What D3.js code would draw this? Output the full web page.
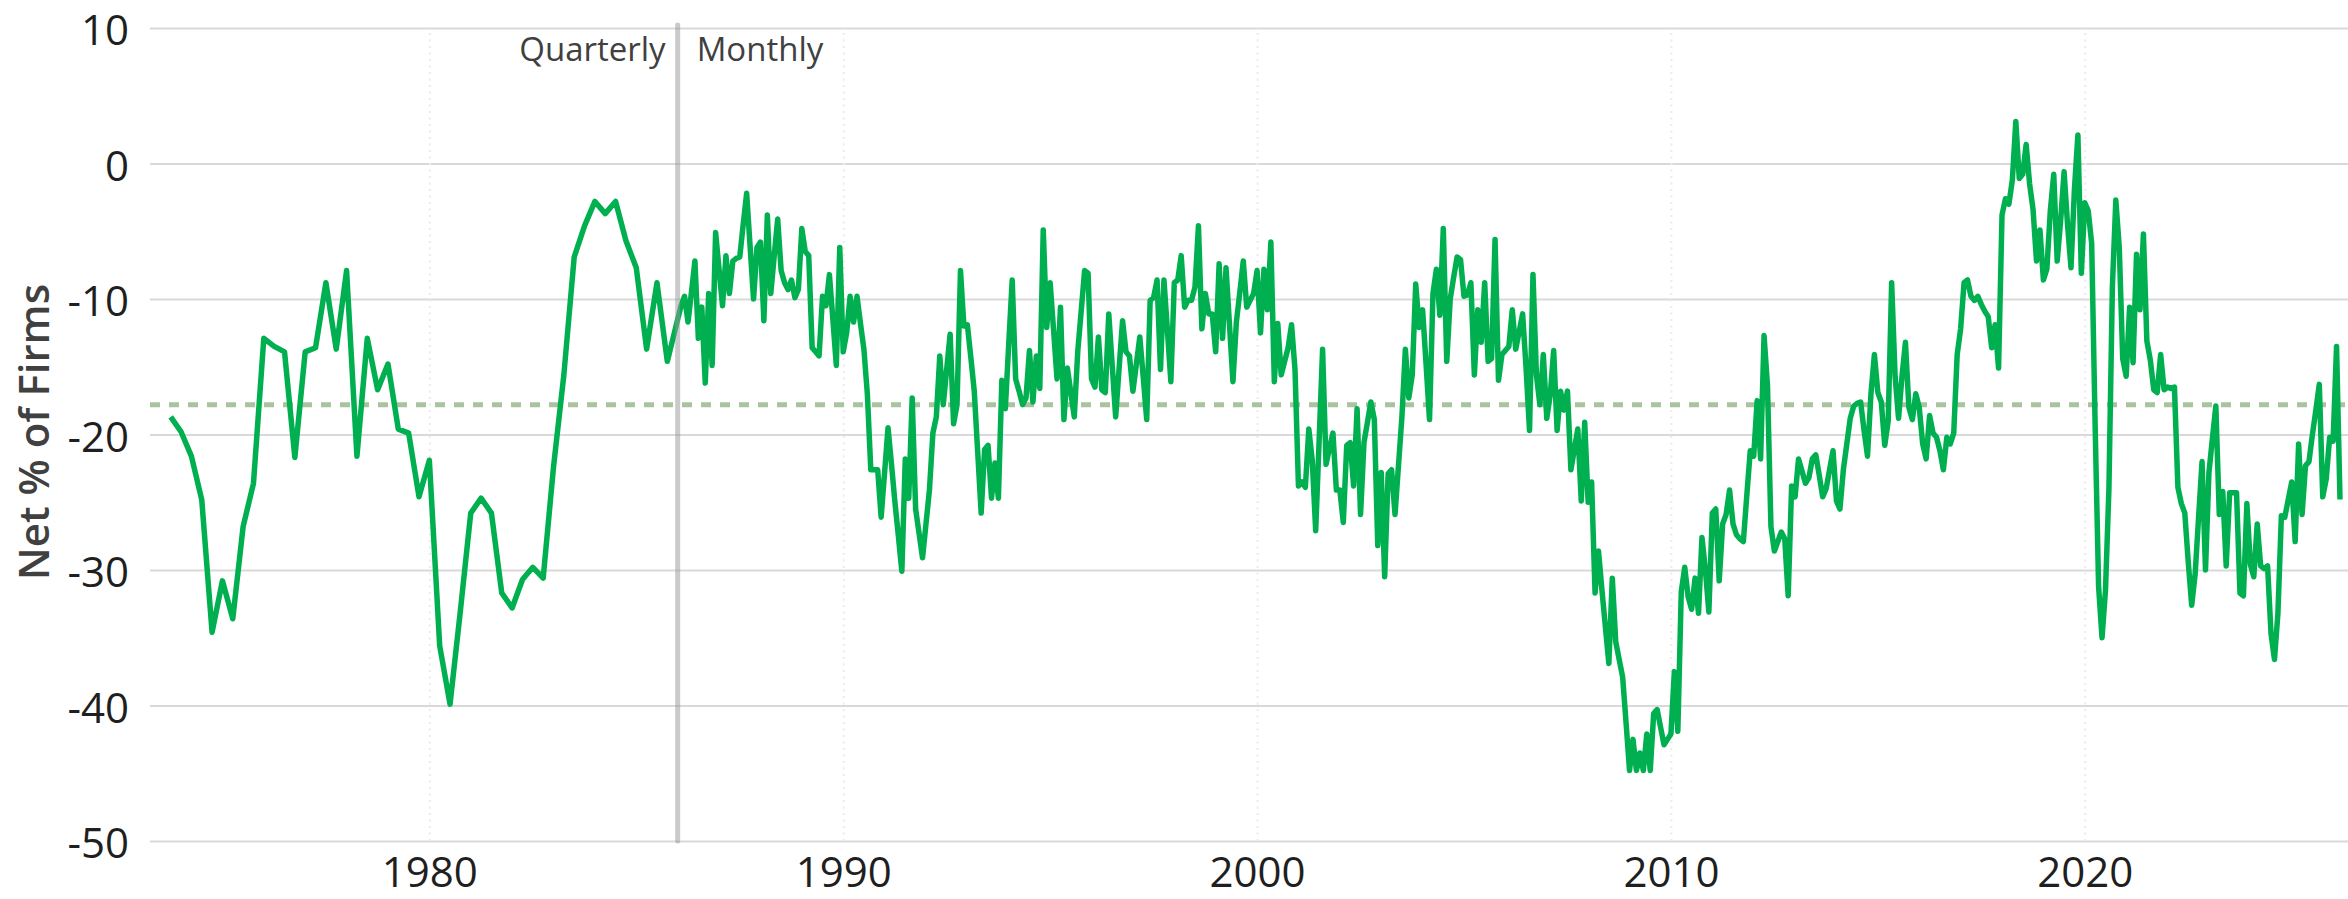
<!DOCTYPE html>
<html>
<head>
<meta charset="utf-8">
<script src="https://cdn.jsdelivr.net/npm/d3@7"></script>
<style>
  body { margin: 0; background: #fff; }
  text { font-family: "Open Sans", "Noto Sans", sans-serif; }
</style>
</head>
<body>
<div id="chart"></div>
<script>
// quarterly survey, 1973 Q4 to 1985 Q4
var quarterlyStart = 1973.75;
var quarterlyValues = [
  -18.7, -19.8, -21.6, -24.8, -34.6, -30.8, -33.6, -26.8, -23.6, -12.9, -13.5, -13.9,
  -21.7, -13.9, -13.6, -8.8, -13.7, -7.9, -21.6, -12.9, -16.7, -14.8, -19.6, -19.9,
  -24.6, -21.9, -35.6, -39.9, -33.0, -25.8, -24.7, -25.8, -31.7, -32.8, -30.7, -29.8,
  -30.6, -22.4, -15.6, -6.9, -4.6, -2.8, -3.7, -2.8, -5.7, -7.7, -13.7, -8.8, -14.6
];

// monthly survey from Jan 1986, one row per year
var monthlyStart = 1986;
var monthlyValues = [
  -11.5, -10.5, -9.8, -11.7, -9.5, -7.2, -12.9, -10.6, -16.2, -9.6, -14.9, -5.1,
  -7.8, -10.5, -6.8, -9.6, -7.2, -7.0, -6.9, -4.5, -2.2, -6.1, -10.0, -6.2,
  -5.8, -11.6, -3.8, -9.6, -6.8, -4.1, -7.9, -8.8, -9.3, -8.6, -9.9, -9.3,
  -4.8, -6.5, -6.8, -13.6, -13.9, -14.2, -9.8, -10.5, -8.2, -11.5, -14.9, -6.2,
  -13.9, -12.5, -9.8, -11.7, -9.8, -11.8, -13.7, -17.0, -22.6, -22.6, -22.6, -26.1,
  -22.8, -19.5, -22.2, -25.0, -27.5, -30.1, -21.8, -24.7, -17.3, -25.5, -27.3, -29.1,
  -26.6, -24.1, -19.9, -18.7, -14.2, -17.8, -15.2, -12.6, -19.2, -17.8, -7.9, -12.0,
  -11.9, -14.3, -16.8, -21.3, -25.8, -21.1, -20.8, -24.7, -22.1, -24.7, -16.0, -18.1,
  -13.3, -8.6, -15.9, -16.8, -17.8, -17.3, -13.8, -17.6, -14.2, -16.6, -4.9, -12.1,
  -8.8, -12.3, -15.9, -10.6, -18.9, -15.1, -16.9, -18.7, -13.9, -10.9, -7.9, -8.1,
  -15.9, -16.5, -12.8, -16.7, -16.9, -11.1, -14.9, -18.7, -15.1, -11.6, -13.9, -14.2,
  -16.8, -14.8, -12.8, -15.8, -18.9, -10.1, -9.9, -8.6, -15.2, -8.6, -12.3, -16.1,
  -8.8, -8.6, -6.8, -10.6, -10.1, -10.1, -9.1, -4.6, -12.2, -9.6, -11.1, -11.1,
  -13.9, -7.4, -12.9, -7.7, -11.9, -16.1, -11.7, -9.5, -7.2, -10.6, -10.1, -9.6,
  -7.9, -12.5, -7.8, -10.8, -5.8, -16.1, -11.8, -15.6, -14.6, -13.6, -11.9, -15.2,
  -23.8, -23.5, -23.9, -19.6, -21.9, -27.1, -20.4, -13.7, -22.2, -21.0, -19.9, -24.1,
  -24.1, -26.5, -20.8, -20.6, -23.8, -18.1, -25.9, -20.6, -19.1, -17.6, -18.9, -28.2,
  -22.8, -30.5, -22.9, -22.6, -25.9, -22.3, -18.7, -13.7, -17.3, -15.6, -8.9, -12.1,
  -10.8, -14.8, -18.9, -9.6, -7.8, -11.2, -4.8, -14.6, -10.0, -8.4, -6.9, -7.1,
  -9.8, -9.7, -8.8, -15.6, -10.8, -13.2, -8.8, -14.6, -14.4, -5.6, -16.0, -14.1,
  -13.8, -13.5, -10.8, -13.7, -12.4, -11.1, -15.1, -19.7, -8.2, -15.6, -17.8, -14.1,
  -18.8, -17.1, -13.8, -19.7, -16.8, -18.2, -16.8, -22.6, -21.1, -19.6, -24.9, -19.1,
  -25.0, -23.5, -31.7, -28.6, -31.5, -34.2, -36.9, -30.6, -35.3, -36.6, -37.9, -41.3,
  -44.8, -42.5, -44.8, -43.5, -44.8, -42.1, -44.8, -40.6, -40.3, -41.6, -42.9, -42.5,
  -42.1, -37.5, -41.9, -31.6, -29.8, -32.0, -32.9, -30.6, -33.2, -27.6, -30.0, -33.1,
  -25.8, -25.5, -30.8, -26.6, -25.9, -24.1, -26.6, -27.4, -27.7, -27.9, -24.5, -21.2,
  -21.6, -17.5, -21.8, -12.7, -16.4, -26.8, -28.6, -27.9, -27.2, -27.7, -31.9, -23.8,
  -24.6, -21.8, -22.7, -23.6, -23.2, -21.8, -21.5, -23.0, -24.6, -24.0, -22.6, -21.2,
  -24.9, -25.5, -22.6, -20.7, -18.8, -17.9, -17.7, -17.6, -19.7, -21.6, -17.0, -14.1,
  -16.9, -17.6, -20.8, -19.0, -8.8, -15.7, -18.8, -15.7, -13.2, -18.0, -18.9, -17.0,
  -18.0, -20.7, -21.8, -18.6, -19.9, -20.2, -21.2, -22.6, -20.2, -20.7, -19.9, -14.1,
  -12.2, -8.8, -8.6, -9.8, -10.1, -9.8, -10.4, -10.9, -11.3, -13.6, -11.9, -15.1,
  -3.8, -2.6, -3.0, -1.2, 3.1, -1.1, -0.8, 1.4, -1.5, -3.4, -7.2, -4.9,
  -8.6, -7.8, -3.5, -0.8, -7.2, -4.2, -0.6, -4.5, -7.7, -1.9, 2.1, -8.1,
  -2.9, -3.5, -5.9, -19.3, -31.2, -35.0, -31.5, -24.0, -9.1, -2.7, -6.2, -14.4,
  -15.7, -10.6, -14.7, -6.7, -10.8, -5.2, -13.1, -14.5, -16.7, -16.9, -14.1, -16.7,
  -16.5, -16.6, -16.5, -23.9, -25.1, -25.8, -29.4, -32.6, -30.3, -26.1, -22.0, -30.0,
  -22.8, -20.3, -17.9, -25.9, -24.2, -29.7, -24.3, -24.3, -24.3, -31.7, -31.9, -25.1,
  -29.6, -30.5, -26.6, -29.7, -29.9, -29.7, -34.7, -36.6, -33.2, -26.0, -26.1, -24.8,
  -23.5, -27.9, -20.7, -25.9, -22.3, -22.0, -20.0, -18.2, -16.3, -24.6, -23.3, -20.2,
  -20.5, -13.5, -24.8
];

var average = -17.8;
var switchYear = 1986;
var periodLabels = ["Quarterly", "Monthly"];
var xTicks = [1980, 1990, 2000, 2010, 2020];
var yTicks = [-50, -40, -30, -20, -10, 0, 10];
var yTitle = "Net % of Firms";

// set the dimensions and margins of the graph
var totalWidth = 2348,
    totalHeight = 899;
var margin = {top: 28, right: 0, bottom: 58, left: 150};
var width = totalWidth - margin.left - margin.right,
    height = totalHeight - margin.top - margin.bottom;

var svg = d3.select("#chart")
    .append("svg")
    .attr("width", totalWidth)
    .attr("height", totalHeight)
    .append("g")
    .attr("transform", `translate(${margin.left}, ${margin.top})`);

var series = quarterlyValues.map((v, i) => ({t: quarterlyStart + i / 4, v: v}))
    .concat(monthlyValues.map((v, i) => ({t: monthlyStart + i / 12, v: v})));

// scales
var x = d3.scaleLinear()
    .domain([1973.25, 2026.36])
    .range([0, width]);

var y = d3.scaleLinear()
    .domain([-50, 10])
    .range([height, 0]);

// y axis with horizontal gridlines (plain hyphen for negatives)
var yAxis = svg.append("g")
    .call(d3.axisLeft(y)
        .tickValues(yTicks)
        .tickFormat(d => String(d))
        .tickSize(-width)
        .tickPadding(21));
yAxis.select(".domain").remove();
yAxis.selectAll(".tick line")
    .attr("stroke", "#d9d9d9")
    .attr("stroke-width", 2);
yAxis.selectAll(".tick text")
    .attr("dy", "0.4em")
    .style("font-size", "42px")
    .attr("fill", "#1f1f1f");

// x axis with faint dotted gridlines
var xAxis = svg.append("g")
    .attr("transform", `translate(0, ${height})`)
    .call(d3.axisBottom(x)
        .tickValues(xTicks)
        .tickFormat(d => String(d))
        .tickSize(-height)
        .tickPadding(16));
xAxis.select(".domain").remove();
xAxis.selectAll(".tick line")
    .attr("stroke", "#eaeaf0")
    .attr("stroke-width", 2)
    .attr("stroke-dasharray", "2,4.5");
xAxis.selectAll(".tick text")
    .style("font-size", "42px")
    .attr("fill", "#1f1f1f");

// y axis title
svg.append("text")
    .attr("transform", `translate(${49 - margin.left}, ${432 - margin.top}) rotate(-90)`)
    .style("text-anchor", "middle")
    .style("font-size", "42px")
    .style("font-weight", 600)
    .attr("fill", "#404040")
    .text(yTitle);

// long-run average
svg.append("line")
    .attr("x1", 0)
    .attr("x2", width)
    .attr("y1", y(average))
    .attr("y2", y(average))
    .attr("stroke", "#a9c39e")
    .attr("stroke-width", 5)
    .attr("stroke-dasharray", "10,9");

// the series
var line = d3.line()
    .x(d => x(d.t))
    .y(d => y(d.v));

svg.append("path")
    .datum(series)
    .attr("d", line)
    .attr("fill", "none")
    .attr("stroke", "#00b050")
    .attr("stroke-width", 5.5)
    .attr("stroke-linejoin", "round");

// quarterly / monthly divider
var xs = x(switchYear);
svg.append("line")
    .attr("x1", xs)
    .attr("x2", xs)
    .attr("y1", -3)
    .attr("y2", height)
    .attr("stroke", "rgba(150,150,150,0.5)")
    .attr("stroke-width", 5)
    .attr("stroke-linecap", "round");

svg.append("text")
    .attr("x", xs - 12)
    .attr("y", 61 - margin.top)
    .style("text-anchor", "end")
    .style("font-size", "33px")
    .attr("fill", "#404040")
    .text(periodLabels[0]);

svg.append("text")
    .attr("x", xs + 19)
    .attr("y", 61 - margin.top)
    .style("text-anchor", "start")
    .style("font-size", "33px")
    .attr("fill", "#404040")
    .text(periodLabels[1]);
</script>
</body>
</html>
